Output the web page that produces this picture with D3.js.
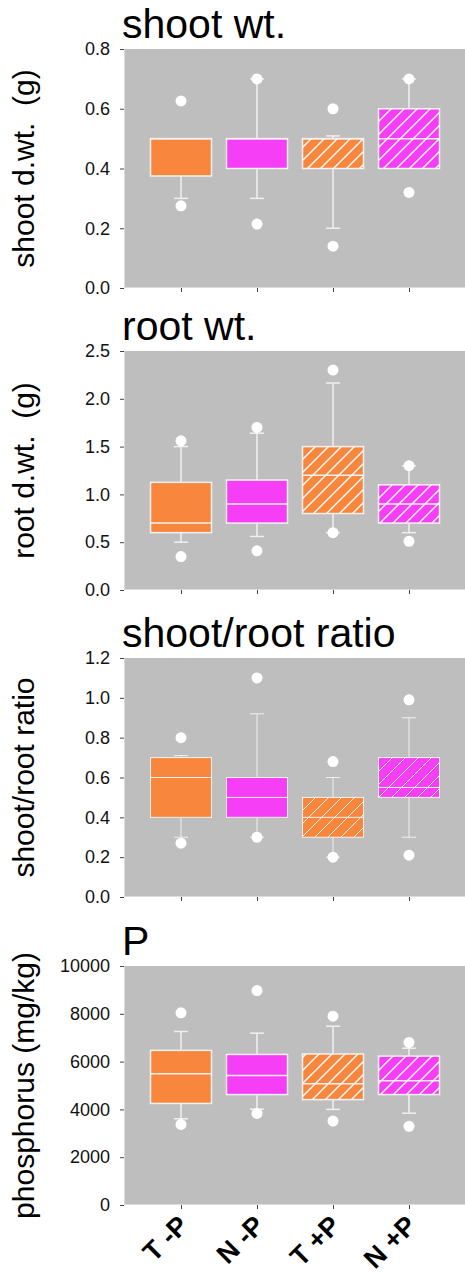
<!DOCTYPE html>
<html>
<head>
<meta charset="utf-8">
<script src="https://cdn.jsdelivr.net/npm/d3@7"></script>
<style>
    body { margin: 0; background: #fff; }
    svg { display: block; font-family: "Liberation Sans", Arial, sans-serif; }
</style>
</head>
<body>
<script>
const WIDTH = 465
const HEIGHT = 1281

const categories = ["T -P", "N -P", "T +P", "N +P"]
const fills = ["#f8863c", "#f63ef6", "#f8863c", "#f63ef6"]
const hatched = [false, false, true, true]

// box stats: lo/hi = whisker ends, out = single points
const shootBoxes = [
    { lo: 0.3, q1: 0.375, med: 0.5, q3: 0.5, hi: 0.5, out: [0.626, 0.275] },
    { lo: 0.3, q1: 0.4, med: 0.5, q3: 0.5, hi: 0.7, out: [0.7, 0.214] },
    { lo: 0.2, q1: 0.4, med: 0.5, q3: 0.5, hi: 0.509, out: [0.6, 0.14] },
    { lo: 0.4, q1: 0.4, med: 0.5, q3: 0.6, hi: 0.7, out: [0.7, 0.32] }
]
const rootBoxes = [
    { lo: 0.5, q1: 0.6, med: 0.7, q3: 1.126, hi: 1.5, out: [1.56, 0.35] },
    { lo: 0.56, q1: 0.7, med: 0.9, q3: 1.15, hi: 1.64, out: [1.7, 0.41] },
    { lo: 0.6, q1: 0.8, med: 1.2, q3: 1.5, hi: 2.165, out: [2.3, 0.6] },
    { lo: 0.6, q1: 0.7, med: 0.9, q3: 1.1, hi: 1.3, out: [1.3, 0.51] }
]
const ratioBoxes = [
    { lo: 0.3, q1: 0.4, med: 0.6, q3: 0.7, hi: 0.71, out: [0.8, 0.27] },
    { lo: 0.3, q1: 0.4, med: 0.5, q3: 0.6, hi: 0.92, out: [1.1, 0.3] },
    { lo: 0.2, q1: 0.3, med: 0.4, q3: 0.5, hi: 0.6, out: [0.68, 0.2] },
    { lo: 0.3, q1: 0.5, med: 0.55, q3: 0.7, hi: 0.9, out: [0.99, 0.21] }
]
const pBoxes = [
    { lo: 3610, q1: 4250, med: 5490, q3: 6470, hi: 7260, out: [8040, 3370] },
    { lo: 4010, q1: 4620, med: 5420, q3: 6300, hi: 7190, out: [8970, 3830] },
    { lo: 4000, q1: 4410, med: 5070, q3: 6320, hi: 7480, out: [7900, 3510] },
    { lo: 3840, q1: 4620, med: 5200, q3: 6230, hi: 6560, out: [6800, 3290] }
]

const shootTicks = [0, 0.2, 0.4, 0.6, 0.8]
const rootTicks = [0, 0.5, 1.0, 1.5, 2.0, 2.5]
const ratioTicks = [0, 0.2, 0.4, 0.6, 0.8, 1.0, 1.2]
const pTicks = [0, 2000, 4000, 6000, 8000, 10000]

const panels = [
    { title: "shoot wt.", label: "shoot d.wt.  (g)", boxes: shootBoxes, ticks: shootTicks, fmt: ".1f", top: 49, sw: 1.5 },
    { title: "root wt.", label: "root d.wt.  (g)", boxes: rootBoxes, ticks: rootTicks, fmt: ".1f", top: 351, sw: 1.5 },
    { title: "shoot/root ratio", label: "shoot/root ratio", boxes: ratioBoxes, ticks: ratioTicks, fmt: ".1f", top: 658, sw: 1 },
    { title: "P", label: "phosphorus (mg/kg)", boxes: pBoxes, ticks: pTicks, fmt: "d", top: 966, sw: 1.5 }
]

const PLOT = { left: 124, right: 466, height: 239 }
const BOX_W = 61
const CAP_W = 14

const svg = d3.select("body")
    .append("svg")
    .attr("width", WIDTH)
    .attr("height", HEIGHT)

const defs = svg.append("defs")
const addHatch = (id, w) => {
    const p = defs.append("pattern")
        .attr("id", id)
        .attr("patternUnits", "userSpaceOnUse")
        .attr("width", 13)
        .attr("height", 13)
    p.append("path")
        .attr("d", "M0,13 L13,0 M-3,3 L3,-3 M10,16 L16,10")
        .attr("stroke", "#fff")
        .attr("stroke-width", w)
}
addHatch("hatch", 1.4)
addHatch("hatchThin", 0.9)

const xScale = d3.scalePoint()
    .domain(categories)
    .range([PLOT.left, PLOT.right])
    .padding(0.75)

panels.forEach((panel, pi) => {
    const top = panel.top
    const bottom = top + PLOT.height
    const yScale = d3.scaleLinear()
        .domain([0, d3.max(panel.ticks)])
        .range([bottom, top])

    const g = svg.append("g")

    g.append("rect")
        .attr("x", PLOT.left)
        .attr("y", top)
        .attr("width", PLOT.right - PLOT.left)
        .attr("height", PLOT.height)
        .attr("fill", "#bebebe")

    g.append("path")
        .attr("d", `M${PLOT.left + 0.5},${top} V${bottom - 0.5} H${PLOT.right}`)
        .attr("fill", "none")
        .attr("stroke", "#dcdcdc")
        .attr("stroke-width", 1)

    g.append("text")
        .attr("x", PLOT.left - 2)
        .attr("y", top - 11)
        .style("font-size", "41px")
        .text(panel.title)

    g.append("text")
        .attr("transform", `translate(34, ${top + PLOT.height / 2}) rotate(-90)`)
        .attr("text-anchor", "middle")
        .style("font-size", "30px")
        .style("white-space", "pre")
        .text(panel.label)

    const yAxis = d3.axisLeft(yScale)
        .tickValues(panel.ticks)
        .tickFormat(d3.format(panel.fmt))
        .tickSize(4)
        .tickPadding(10)

    const ya = g.append("g")
        .attr("transform", `translate(${PLOT.left}, 0)`)
        .call(yAxis)
    ya.select(".domain").remove()
    ya.selectAll("line").attr("stroke", "#444")
    ya.selectAll("text")
        .style("font-size", "18px")
        .style("font-family", "'Liberation Sans', Arial, sans-serif")
        .attr("fill", "#111")

    const xAxis = d3.axisBottom(xScale)
        .tickSize(4)
        .tickFormat("")
    const xa = g.append("g")
        .attr("transform", `translate(0, ${bottom})`)
        .call(xAxis)
    xa.select(".domain").remove()
    xa.selectAll("line").attr("stroke", "#444")

    const boxes = g.selectAll(".box")
        .data(panel.boxes)
        .enter()
        .append("g")
        .attr("class", "box")
        .attr("transform", (d, i) => `translate(${xScale(categories[i])}, 0)`)

    // whiskers
    boxes.append("line")
        .attr("x1", 0).attr("x2", 0)
        .attr("y1", d => yScale(d.q3))
        .attr("y2", d => yScale(d.hi))
        .attr("stroke", "#f0f0f0")
        .attr("stroke-width", panel.sw)
    boxes.append("line")
        .attr("x1", 0).attr("x2", 0)
        .attr("y1", d => yScale(d.q1))
        .attr("y2", d => yScale(d.lo))
        .attr("stroke", "#f0f0f0")
        .attr("stroke-width", panel.sw)
    boxes.filter(d => d.hi > d.q3).append("line")
        .attr("x1", -CAP_W / 2).attr("x2", CAP_W / 2)
        .attr("y1", d => yScale(d.hi))
        .attr("y2", d => yScale(d.hi))
        .attr("stroke", "#f0f0f0")
        .attr("stroke-width", panel.sw)
    boxes.filter(d => d.lo < d.q1).append("line")
        .attr("x1", -CAP_W / 2).attr("x2", CAP_W / 2)
        .attr("y1", d => yScale(d.lo))
        .attr("y2", d => yScale(d.lo))
        .attr("stroke", "#f0f0f0")
        .attr("stroke-width", panel.sw)

    boxes.append("rect")
        .attr("x", -BOX_W / 2)
        .attr("width", BOX_W)
        .attr("y", d => yScale(d.q3))
        .attr("height", d => yScale(d.q1) - yScale(d.q3))
        .attr("fill", (d, i) => fills[i])

    boxes.filter((d, i) => hatched[i]).append("rect")
        .attr("x", -BOX_W / 2)
        .attr("width", BOX_W)
        .attr("y", d => yScale(d.q3))
        .attr("height", d => yScale(d.q1) - yScale(d.q3))
        .attr("fill", panel.sw < 1.5 ? "url(#hatchThin)" : "url(#hatch)")

    boxes.append("rect")
        .attr("x", -BOX_W / 2)
        .attr("width", BOX_W)
        .attr("y", d => yScale(d.q3))
        .attr("height", d => yScale(d.q1) - yScale(d.q3))
        .attr("fill", "none")
        .attr("stroke", "#f2f2f2")
        .attr("stroke-width", panel.sw)

    boxes.append("line")
        .attr("x1", -BOX_W / 2).attr("x2", BOX_W / 2)
        .attr("y1", d => yScale(d.med))
        .attr("y2", d => yScale(d.med))
        .attr("stroke", "#f2f2f2")
        .attr("stroke-width", panel.sw)

    boxes.selectAll(".out")
        .data(d => d.out)
        .enter()
        .append("circle")
        .attr("class", "out")
        .attr("cx", 0)
        .attr("cy", d => yScale(d))
        .attr("r", 5.5)
        .attr("fill", "#fff")

    if (pi === panels.length - 1) {
        g.selectAll(".xlab")
            .data(categories)
            .enter()
            .append("text")
            .attr("class", "xlab")
            .attr("transform", d => `translate(${xScale(d) + 9}, ${bottom + 22}) rotate(-45)`)
            .attr("text-anchor", "end")
            .style("font-size", "27px")
            .style("font-weight", "bold")
            .text(d => d)
    }
})
</script>
</body>
</html>
